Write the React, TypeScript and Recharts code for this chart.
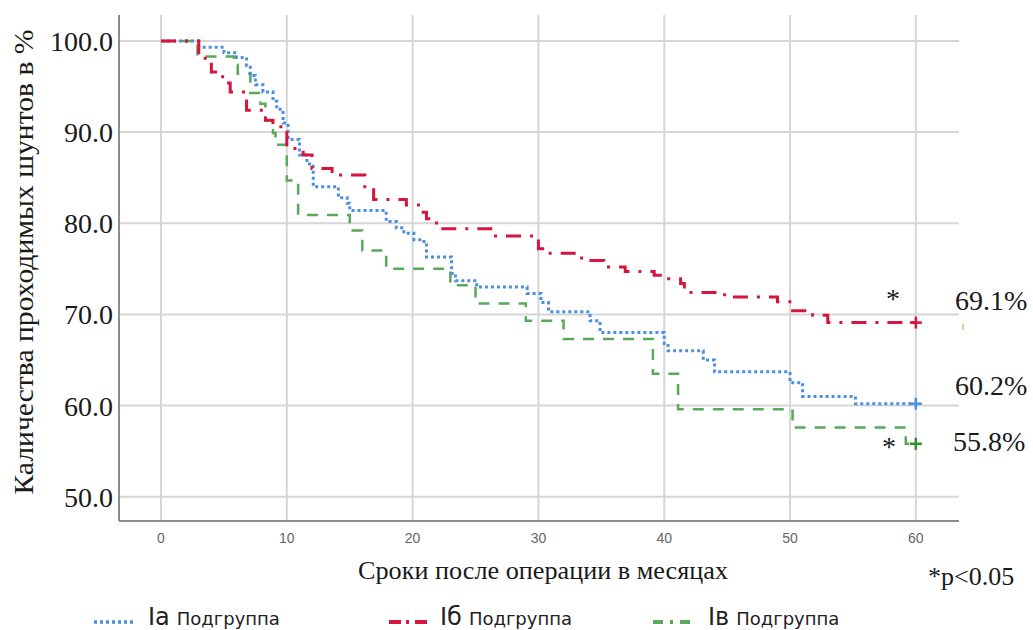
import { LineChart, Line, XAxis, YAxis, CartesianGrid } from 'recharts';

// Kaplan-Meier steps: months -> % patent grafts
const T_IA = [0, 3.0, 5.0, 6.0, 6.8, 7.1, 7.5, 8.1, 8.9, 9.2, 9.7, 10.1, 11.0, 11.6, 12.1, 14.1, 14.8, 15.0, 17.9, 18.7, 19.3, 20.1, 20.9, 21.1, 23.1, 23.4, 25.1, 29.1, 30.2, 30.8, 34.1, 34.9, 40.0, 40.3, 43.1, 44.0, 50.0, 51.0, 55.2, 60];
const S_IA = [100, 99.3, 98.7, 98.2, 97.3, 96.2, 95.2, 94.4, 93.4, 92.5, 91.0, 89.2, 87.5, 86.5, 84.0, 82.8, 82.2, 81.4, 80.2, 79.5, 78.9, 78.2, 77.6, 76.3, 74.5, 73.7, 73.0, 72.3, 71.3, 70.3, 69.3, 68.0, 66.8, 66.0, 65.0, 63.7, 62.5, 61.0, 60.2, 60.2];

const T_IB = [0, 3.0, 4.0, 4.9, 5.5, 6.8, 8.3, 8.9, 10.0, 11.3, 12.0, 13.6, 16.2, 16.9, 19.5, 20.6, 21.1, 21.9, 26.4, 30.0, 30.8, 33.0, 33.7, 35.2, 36.9, 39.2, 39.9, 41.3, 41.6, 44.8, 49.0, 50.2, 51.8, 53.0, 60];
const S_IB = [100, 98.1, 96.6, 95.4, 94.4, 92.4, 91.3, 90.6, 88.2, 87.5, 86.0, 85.3, 84.0, 82.6, 82.0, 81.2, 80.5, 79.4, 78.6, 77.2, 76.7, 76.2, 75.9, 75.2, 74.7, 74.3, 73.9, 73.4, 72.4, 71.9, 71.4, 70.4, 69.9, 69.1, 69.1];

const T_IV = [0, 2.9, 5.8, 6.1, 7.1, 7.9, 8.3, 8.9, 9.1, 10.0, 10.9, 15.0, 16.0, 17.9, 23.0, 25.0, 29.0, 32.0, 39.1, 41.1, 50.2, 59.2, 60];
const S_IV = [100, 98.3, 97.4, 96.4, 94.3, 93.1, 91.3, 89.9, 88.6, 84.7, 80.9, 79.2, 77.0, 75.0, 73.2, 71.2, 69.3, 67.3, 63.5, 59.6, 57.6, 55.8, 55.8];

const X_TICKS = [0, 10, 20, 30, 40, 50, 60];
const Y_TICKS = [50, 60, 70, 80, 90, 100];
const GROUPS = ['Iа', 'Iб', 'Iв'];
const END_LABELS = ['69.1%', '60.2%', '55.8%'];

const BLUE = '#4a8fe2';
const RED = '#d5153b';
const GREEN = '#5aa85a';

const toPoints = (t: number[], s: number[]) => t.map((x, i) => ({ t: x, v: s[i] }));

const SERIF = '"Liberation Serif", "Times New Roman", serif';
const SANS = '"DejaVu Sans", Verdana, sans-serif';

function endCross(color: string, n: number) {
  return (p: any) => {
    if (p.index !== n - 1) return <g key={`d${p.index}`} />;
    return (
      <g key={`d${p.index}`} stroke={color} strokeWidth={2.5} strokeDasharray="none">
        <line x1={p.cx - 6} x2={p.cx + 6} y1={p.cy} y2={p.cy} />
        <line x1={p.cx} x2={p.cx} y1={p.cy - 6} y2={p.cy + 6} />
      </g>
    );
  };
}

const YTick = (p: any) => (
  <text x={p.x} y={p.y} dy="0.36em" textAnchor="end" fontFamily={SERIF} fontSize={28} fill="#1a1a1a">
    {p.payload.value.toFixed(1)}
  </text>
);

const XTick = (p: any) => (
  <text x={p.x} y={543} textAnchor="middle" fontFamily='"Liberation Sans", Arial, sans-serif' fontSize={14} fill="#666">
    {p.payload.value}
  </text>
);

function LegendIcon({ color, dash, width }: { color: string; dash: string; width: number }) {
  return (
    <svg width={42} height={12} style={{ position: 'absolute', top: -6, left: 0 }}>
      <line x1={1} x2={41} y1={6} y2={6} stroke={color} strokeWidth={width} strokeDasharray={dash} />
    </svg>
  );
}

const LEGEND_POS = [
  { icon: 93, text: 148, color: BLUE, dash: '3 3', width: 3.5 },
  { icon: 388, text: 440, color: RED, dash: '12 5 3 6', width: 4 },
  { icon: 652, text: 708, color: GREEN, dash: '10 7 3 7', width: 4 },
];

export default function App() {
  return (
    <div style={{ position: 'absolute', left: 0, top: 0, width: 1033, height: 630, background: '#fff', overflow: 'hidden' }}>
      <LineChart width={1033} height={630} margin={{ top: 15, right: 74, bottom: 79, left: 0 }}>
        <CartesianGrid stroke="#d6d6d6" strokeWidth={2} horizontalValues={Y_TICKS} verticalValues={X_TICKS} />
        <XAxis
          type="number"
          dataKey="t"
          domain={[-3.34, 63.43]}
          allowDataOverflow
          ticks={X_TICKS}
          tick={<XTick />}
          tickLine={false}
          height={30}
          axisLine={{ stroke: '#8c8c8c', strokeWidth: 2 }}
        />
        <YAxis
          type="number"
          domain={[47.33, 102.85]}
          allowDataOverflow
          ticks={Y_TICKS}
          tick={<YTick />}
          tickLine={false}
          tickSize={0}
          tickMargin={6}
          width={119}
          axisLine={{ stroke: '#8c8c8c', strokeWidth: 2 }}
        />
        <Line data={toPoints(T_IV, S_IV)} dataKey="v" type="stepAfter" stroke={GREEN} strokeWidth={2.5}
          strokeDasharray="11 9" dot={endCross('#2f8f2f', T_IV.length)} isAnimationActive={false} />
        <Line data={toPoints(T_IA, S_IA)} dataKey="v" type="stepAfter" stroke={BLUE} strokeWidth={3}
          strokeDasharray="3 3" dot={endCross(BLUE, T_IA.length)} isAnimationActive={false} />
        <Line data={toPoints(T_IB, S_IB)} dataKey="v" type="stepAfter" stroke={RED} strokeWidth={3}
          strokeDasharray="15 9 3 9" dot={endCross(RED, T_IB.length)} isAnimationActive={false} />
      </LineChart>

      <svg width={1033} height={630} style={{ position: 'absolute', left: 0, top: 0, pointerEvents: 'none' }}>
        <text x={0} y={0} transform="translate(33 262) rotate(-90)" textAnchor="middle" fontFamily={SERIF}
          fontSize={28} fill="#1a1a1a" textLength={465} lengthAdjust="spacingAndGlyphs">
          Каличества проходимых шунтов в %
        </text>
        <text x={358} y={579} fontFamily={SERIF} fontSize={25} fill="#1a1a1a" textLength={370} lengthAdjust="spacingAndGlyphs">
          Сроки после операции в месяцах
        </text>
        <text x={928} y={585} fontFamily={SERIF} fontSize={26} fill="#1a1a1a">*p&lt;0.05</text>
        <text x={955} y={310} fontFamily={SERIF} fontSize={28} fill="#1a1a1a">{END_LABELS[0]}</text>
        <text x={955} y={395} fontFamily={SERIF} fontSize={28} fill="#1a1a1a">{END_LABELS[1]}</text>
        <text x={953} y={451} fontFamily={SERIF} fontSize={28} fill="#1a1a1a">{END_LABELS[2]}</text>
        <text x={893} y={308} textAnchor="middle" fontFamily={SERIF} fontSize={28} fill="#1a1a1a">*</text>
        <text x={889} y={456} textAnchor="middle" fontFamily={SERIF} fontSize={28} fill="#1a1a1a">*</text>
        <line x1={963} x2={963} y1={324} y2={330} stroke="#f0b070" strokeWidth={1.5} />
      </svg>

      {LEGEND_POS.map((l, i) => (
        <div key={GROUPS[i]}>
          <div style={{ position: 'absolute', left: l.icon, top: 622 }}>
            <LegendIcon color={l.color} dash={l.dash} width={l.width} />
          </div>
          <div style={{ position: 'absolute', left: l.text, top: 602, whiteSpace: 'nowrap', fontFamily: SANS, color: '#222', lineHeight: '30px' }}>
            <span style={{ fontSize: 24 }}>{GROUPS[i]}</span>
            <span style={{ fontSize: 18, marginLeft: 7 }}>Подгруппа</span>
          </div>
        </div>
      ))}
    </div>
  );
}
